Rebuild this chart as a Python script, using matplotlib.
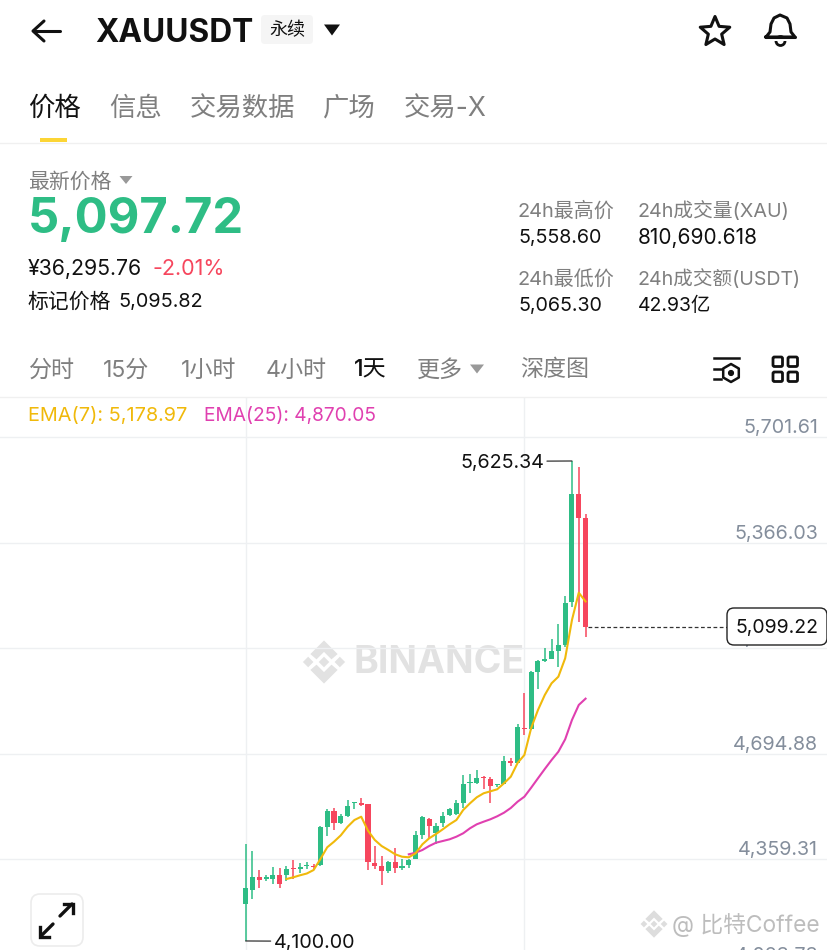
import numpy as np
import matplotlib
matplotlib.use("Agg")
import matplotlib.pyplot as plt
from matplotlib.patches import FancyBboxPatch, Polygon, Rectangle

plt.rcParams['font.family'] = ['Inter', 'Noto Sans CJK SC', 'DejaVu Sans']

# daily candles
opens = [4216.5, 4262.0, 4302.3, 4297.9, 4297.9, 4308.7, 4308.7, 4332.8, 4328.7, 4337.3,
         4338.2, 4340.5, 4463.1, 4514.0, 4474.0, 4498.1, 4537.5, 4538.5, 4535.3, 4346.8,
         4338.2, 4322.4, 4351.0, 4331.0, 4340.5, 4360.5, 4436.8, 4488.6, 4443.1, 4474.0,
         4499.4, 4503.5, 4537.5, 4601.0, 4603.0, 4622.0, 4613.8, 4596.6, 4600.4, 4672.9,
         4666.5, 4777.8, 4773.6, 4955.7, 4989.7, 4995.5, 5021.0, 5039.6, 5176.3, 5520.5,
         5443.5]
highs = [4408.2, 4385.9, 4325.5, 4309.7, 4336.0, 4332.8, 4338.2, 4357.3, 4346.8, 4349.4,
         4343.7, 4464.4, 4518.4, 4523.5, 4502.6, 4548.0, 4542.6, 4554.4, 4536.2, 4401.8,
         4371.0, 4354.1, 4394.1, 4361.5, 4359.1, 4451.0, 4497.2, 4489.8, 4475.9, 4508.9,
         4521.0, 4548.0, 4627.5, 4630.6, 4643.3, 4625.2, 4620.1, 4600.4, 4688.8, 4681.5,
         4788.6, 4889.0, 4958.9, 4992.9, 5032.3, 5059.0, 5108.3, 5195.3, 5625.34, 5605.3,
         5458.4]
lows = [4100.0, 4234.3, 4269.3, 4291.5, 4282.0, 4268.3, 4291.5, 4296.0, 4314.9, 4329.7,
        4325.5, 4338.2, 4432.6, 4453.6, 4470.8, 4493.0, 4519.4, 4530.0, 4325.5, 4328.7,
        4279.1, 4316.9, 4315.0, 4325.5, 4331.2, 4359.0, 4424.0, 4427.2, 4408.2, 4463.1,
        4498.7, 4500.3, 4521.6, 4569.3, 4600.4, 4583.9, 4537.5, 4589.6, 4598.8, 4657.0,
        4664.6, 4754.6, 4770.5, 4901.7, 4985.0, 4994.5, 4970.6, 5035.0, 5162.3, 5112.7,
        5065.3]
closes = [4268.3, 4302.3, 4293.8, 4303.3, 4308.7, 4282.0, 4328.7, 4327.8, 4334.0, 4341.4,
          4334.0, 4463.1, 4514.0, 4474.0, 4497.2, 4528.9, 4540.7, 4533.0, 4351.9, 4338.2,
          4323.2, 4351.0, 4331.0, 4338.2, 4357.3, 4436.8, 4493.0, 4466.3, 4463.8, 4498.1,
          4518.4, 4537.5, 4598.8, 4605.2, 4617.9, 4617.0, 4593.4, 4599.8, 4671.9, 4666.5,
          4778.4, 4772.7, 4955.7, 4989.7, 4995.0, 5021.0, 5039.0, 5174.0, 5520.5, 5444.2,
          5099.22]

ema7_start = 6
ema7 = [4296.9, 4302.3, 4308.7, 4314.4, 4325.5, 4360.5, 4397.7, 4415.5, 4435.8, 4463.1,
        4484.4, 4494.9, 4450.4, 4420.9, 4401.8, 4389.1, 4375.4, 4367.8, 4365.9, 4378.6,
        4407.2, 4426.3, 4439.9, 4454.9, 4470.8, 4484.4, 4516.2, 4537.5, 4556.6, 4569.3,
        4575.6, 4582.0, 4601.1, 4622.0, 4665.6, 4691.0, 4776.8, 4834.0, 4881.7, 4918.9,
        4939.9, 4998.3, 5120.0, 5206.8, 5178.97]
ema25_start = 24
ema25 = [4375.4, 4380.5, 4389.1, 4401.8, 4412.3, 4417.7, 4423.1, 4431.4, 4442.2, 4458.1,
         4470.8, 4479.0, 4486.7, 4496.2, 4507.6, 4522.6, 4542.6, 4558.5, 4587.1, 4617.0,
         4646.5, 4675.1, 4701.5, 4740.9, 4802.3, 4850.0, 4870.05]

price_ticks = [5701.61, 5366.03, 5030.46, 4694.88, 4359.31, 4023.73]
time_grid = [0, 41]
last_price = 5099.22
high_mark = 5625.34
low_mark = 4100.00

GREEN = '#2ebd85'
RED = '#f6465d'
YELLOW = '#f0b90b'
PINK = '#e040b0'
GREY = '#848e9c'
LABEL = '#7f7f7f'
BLACK = '#111111'
GRID = '#eef0f2'

fig = plt.figure(figsize=(8.28, 9.5), dpi=100, facecolor='white')

# watermark layer, goes under the candles
wm = fig.add_axes([0, 0, 1, 1], facecolor='none', zorder=0)
wm.set_xlim(0, 828)
wm.set_ylim(950, 0)
wm.axis('off')

# chart area, y from 397px to the bottom edge
ax = fig.add_axes([0, 0, 1, (950 - 397) / 950], zorder=1)
ax.set_xlim(-36.13, 85.66)
ax.set_ylim(4071.3, 5828.7)
ax.axis('off')

for p in price_ticks:
    ax.annotate(f'{p:,.2f}', (818, p), xycoords=('figure pixels', 'data'), xytext=(0, 6.5),
                textcoords='offset points', ha='right', va='center', fontsize=14.2,
                color=GREY, annotation_clip=False, zorder=2)
    ax.axhline(p, color=GRID, lw=1, zorder=1)
for t in time_grid:
    ax.axvline(t, color=GRID, lw=1, zorder=1)

idx = np.arange(len(opens))
o = np.array(opens)
c = np.array(closes)
colors = [GREEN if cl >= op else RED for op, cl in zip(opens, closes)]
ax.vlines(idx, lows, highs, colors=colors, lw=1.1, zorder=4)
ax.bar(idx, np.abs(c - o), bottom=np.minimum(o, c), width=0.74, color=colors, zorder=4)

ax.plot(np.arange(len(ema25)) + ema25_start, ema25, color=PINK, lw=1.5, zorder=5)
ax.plot(np.arange(len(ema7)) + ema7_start, ema7, color=YELLOW, lw=1.5, zorder=6)

# high / low marks
ax.annotate(f'{high_mark:,.2f}', (48, high_mark), xytext=(-20, -1.4), textcoords='offset points',
            ha='right', va='center', fontsize=14.2, color=BLACK, zorder=7,
            arrowprops=dict(arrowstyle='-', color='#333333', lw=0.9, shrinkA=0, shrinkB=0, relpos=(1, 0.6)))
ax.annotate(f'{low_mark:,.2f}', (0, low_mark), xytext=(20, -1.4), textcoords='offset points',
            ha='left', va='center', fontsize=14.2, color=BLACK, zorder=7,
            arrowprops=dict(arrowstyle='-', color='#333333', lw=0.9, shrinkA=0, shrinkB=0, relpos=(0, 0.6)))

# last price line
ax.plot([50.4, 70.9], [last_price, last_price], color='#333333', lw=0.9, ls=(0, (3, 2)), zorder=7)

# everything else is drawn in pixel coordinates on top
ui = fig.add_axes([0, 0, 1, 1], facecolor='none', zorder=2)
ui.set_xlim(0, 828)
ui.set_ylim(950, 0)
ui.axis('off')


def txt(x, y, s, size, color=BLACK, weight='normal', ha='left', axes=None, **kw):
    # va center sits a bit high for these fonts
    return (axes or ui).text(x, y + 4, s, fontsize=size, color=color, fontweight=weight,
                             ha=ha, va='center', **kw)


def tri(cx, cy, w, h, color):
    ui.add_patch(Polygon([(cx - w / 2, cy - h / 2), (cx + w / 2, cy - h / 2), (cx, cy + h / 2)],
                         closed=True, color=color, lw=0))


def binance_logo(target, cx, cy, s, color):
    d = s * 0.24
    for dx in (0, -s * 0.72, s * 0.72):
        target.add_patch(Polygon([(cx + dx - d, cy), (cx + dx, cy - d), (cx + dx + d, cy), (cx + dx, cy + d)],
                                 closed=True, color=color, lw=0))
    for sign in (-1, 1):
        target.add_patch(Polygon([(cx - s * 0.62, cy + sign * s * 0.36), (cx, cy + sign * s * 0.98),
                                  (cx + s * 0.62, cy + sign * s * 0.36), (cx + s * 0.34, cy + sign * s * 0.12),
                                  (cx, cy + sign * s * 0.46), (cx - s * 0.34, cy + sign * s * 0.12)],
                                 closed=True, color=color, lw=0))


# header
ui.plot([34, 60], [31, 31], color=BLACK, lw=2.2, solid_capstyle='round')
ui.plot([44, 33, 44], [21, 31, 41], color=BLACK, lw=2.2, solid_capstyle='round', solid_joinstyle='round')
txt(95, 29, 'XAUUSDT', 22.8, weight='bold')
ui.add_patch(FancyBboxPatch((261, 15), 52, 29, boxstyle='round,pad=0,rounding_size=4', fc='#f5f5f5', ec='none'))
txt(287, 26.5, '永续', 13, ha='center')
tri(332, 30, 16, 11, BLACK)

# star
ang = np.deg2rad(np.arange(0, 360, 36) - 90)
rad = np.where(np.arange(10) % 2 == 0, 15.5, 7)
ui.add_patch(Polygon(np.c_[715 + rad * np.cos(ang), 32 + rad * np.sin(ang)], closed=True,
                     fc='none', ec=BLACK, lw=2.2, joinstyle='round'))
# bell
bx = [766, 770, 771, 774, 780, 787, 790, 791, 795, 766]
by = [37, 32, 24, 18, 15, 18, 24, 32, 37, 37]
ui.plot(bx, by, color=BLACK, lw=2.2, solid_joinstyle='round')
ui.add_patch(plt.Circle((780.5, 41), 4.5, fc='none', ec=BLACK, lw=2))
ui.add_patch(Rectangle((772, 38.5), 17, 2.5, fc='white', ec='none'))
ui.plot([766, 795], [37, 37], color=BLACK, lw=2.2, solid_capstyle='round')

# tabs
for x, s, col in [(28, '价格', BLACK), (109, '信息', LABEL), (190, '交易数据', LABEL),
                  (323, '广场', LABEL), (404, '交易-X', LABEL)]:
    txt(x, 104.5, s, 19, color=col)
ui.add_patch(Rectangle((40, 138), 27, 4, fc='#fcd535', ec='none'))
ui.plot([0, 828], [143, 143], color='#f0f0f0', lw=1)

# price block
txt(28, 177.5, '最新价格', 15, color=LABEL)
tri(126, 180, 13, 8, '#999999')
txt(28, 216.5, '5,097.72', 35.2, color=GREEN, weight='bold')
txt(28, 265, '¥36,295.76', 15.3)
txt(153, 265, '-2.01%', 15.5, color=RED)
txt(28, 297.5, '标记价格', 15)
txt(118.5, 297.5, '5,095.82', 14.3)

# 24h stats
for x, y, s, col, size in [(518, 207, '24h最高价', LABEL, 14.4), (518, 234, '5,558.60', BLACK, 14.2),
                           (638, 207, '24h成交量(XAU)', LABEL, 14.2), (637.5, 234, '810,690.618', BLACK, 15),
                           (518, 275, '24h最低价', LABEL, 14.4), (518, 302, '5,065.30', BLACK, 14.2),
                           (638, 275, '24h成交额(USDT)', LABEL, 14.1), (638, 302, '42.93亿', BLACK, 14)]:
    txt(x, y, s, size, color=col)

# interval row
for x, s, col, w in [(28.5, '分时', LABEL, 'normal'), (103, '15分', LABEL, 'normal'),
                     (181, '1小时', LABEL, 'normal'), (266, '4小时', LABEL, 'normal'),
                     (354, '1天', BLACK, 'medium'), (416.5, '更多', LABEL, 'normal'),
                     (520.5, '深度图', LABEL, 'normal')]:
    txt(x, 366.5, s, 16.6, color=col, weight=w)
tri(477, 369, 14, 9, '#999999')

# settings icon
ui.plot([714, 739], [358, 358], color=BLACK, lw=1.8)
ui.plot([714, 721], [369, 369], color=BLACK, lw=1.8)
ui.plot([714, 721], [379, 379], color=BLACK, lw=1.8)
hang = np.deg2rad(np.arange(0, 360, 60) + 90)
ui.add_patch(Polygon(np.c_[731 + 9 * np.cos(hang), 373 + 9 * np.sin(hang)], closed=True,
                     fc='white', ec=BLACK, lw=1.8, joinstyle='round'))
ui.add_patch(plt.Circle((731, 373), 2.4, color=BLACK))
# grid icon
for gx in (773, 788):
    for gy in (357, 372):
        ui.add_patch(FancyBboxPatch((gx, gy), 9.5, 9.5, boxstyle='round,pad=0,rounding_size=1.5',
                                    fc='none', ec=BLACK, lw=2))

ui.plot([0, 828], [397, 397], color='#f0f0f0', lw=1)

# legend
txt(28, 412.5, 'EMA(7): 5,178.97', 14.3, color=YELLOW)
txt(204, 412.5, 'EMA(25): 4,870.05', 13.8, color=PINK)

# price box
ui.add_patch(FancyBboxPatch((727, 608), 100, 37, boxstyle='round,pad=0,rounding_size=7',
                            fc='white', ec='#222222', lw=1, zorder=8))
txt(777.5, 623.5, f'{last_price:,.2f}', 14, ha='center', zorder=9)

# watermarks
binance_logo(wm, 324, 662, 22, '#e2e2e2')
txt(354, 659, 'BINANCE', 27, color='#e2e2e2', weight='bold', axes=wm)
binance_logo(ui, 654, 924, 14, '#dddddd')
txt(672, 921, '@ 比特Coffee', 16.4, color='#bdbdbd')

# expand button
ui.add_patch(FancyBboxPatch((31, 894), 52, 52, boxstyle='round,pad=0,rounding_size=9',
                            fc='white', ec='#ececec', lw=1.2))
ui.plot([60, 72], [916, 904], color=BLACK, lw=2.4, solid_capstyle='round')
ui.plot([64, 73, 73], [904, 904, 913], color=BLACK, lw=2.4, solid_joinstyle='miter')
ui.plot([53, 41], [924, 936], color=BLACK, lw=2.4, solid_capstyle='round')
ui.plot([40, 40, 49], [927, 937, 937], color=BLACK, lw=2.4, solid_joinstyle='miter')

fig.savefig('out.png', dpi=100)
